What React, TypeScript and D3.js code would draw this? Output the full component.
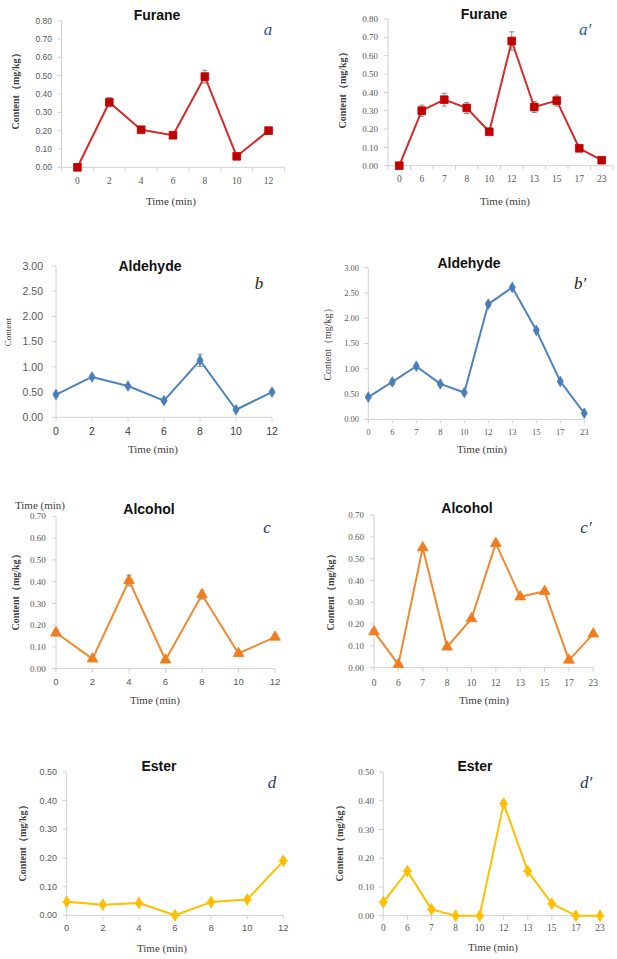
import React from "react";
import * as d3 from "d3";

// ---------- DATA ----------
const timeLeft = ["0", "2", "4", "6", "8", "10", "12"];
const timeRight = ["0", "6", "7", "8", "10", "12", "13", "15", "17", "23"];

const furaneA = [0.0, 0.355, 0.205, 0.175, 0.495, 0.06, 0.2];
const furaneAErr = [0.0, 0.025, 0.01, 0.01, 0.035, 0.01, 0.01];
const furaneA2 = [0.0, 0.3, 0.36, 0.315, 0.185, 0.68, 0.32, 0.355, 0.095, 0.03];
const furaneA2Err = [0.0, 0.03, 0.035, 0.03, 0.01, 0.05, 0.03, 0.03, 0.01, 0.01];

const aldehydeB = [0.45, 0.8, 0.62, 0.33, 1.13, 0.15, 0.5];
const aldehydeBErr = [0.02, 0.04, 0.03, 0.03, 0.12, 0.03, 0.03];
const aldehydeB2 = [0.44, 0.74, 1.05, 0.7, 0.53, 2.28, 2.61, 1.76, 0.75, 0.12];
const aldehydeB2Err = [0.02, 0.05, 0.03, 0.02, 0.03, 0.04, 0.04, 0.04, 0.03, 0.02];

const alcoholC = [0.165, 0.045, 0.405, 0.04, 0.34, 0.07, 0.145];
const alcoholCErr = [0.015, 0.01, 0.025, 0.01, 0.02, 0.01, 0.01];
const alcoholC2 = [0.165, 0.015, 0.55, 0.095, 0.225, 0.57, 0.325, 0.35, 0.035, 0.155];
const alcoholC2Err = [0.01, 0.005, 0.01, 0.005, 0.01, 0.01, 0.01, 0.01, 0.005, 0.01];

const esterD = [0.047, 0.037, 0.043, 0.0, 0.046, 0.055, 0.19];
const esterDErr = [0.005, 0.005, 0.005, 0.0, 0.005, 0.005, 0.01];
const esterD2 = [0.047, 0.155, 0.022, 0.0, 0.0, 0.39, 0.155, 0.042, 0.0, 0.0];
const esterD2Err = [0.005, 0.008, 0.005, 0.0, 0.0, 0.01, 0.008, 0.005, 0.0, 0.0];

const ticksFurane = [0, 0.1, 0.2, 0.3, 0.4, 0.5, 0.6, 0.7, 0.8];
const ticksAldehyde = [0, 0.5, 1.0, 1.5, 2.0, 2.5, 3.0];
const ticksAlcohol = [0, 0.1, 0.2, 0.3, 0.4, 0.5, 0.6, 0.7];
const ticksEster = [0, 0.1, 0.2, 0.3, 0.4, 0.5];

const SERIF = "'Liberation Serif', 'DejaVu Serif', serif";
const SANS = "'Liberation Sans', Arial, sans-serif";

type PanelProps = {
  title: string;
  letter: string;
  cats: string[];
  values: number[];
  errs: number[];
  yTicks: number[];
  xRange: [number, number];
  yRange: [number, number];
  band: boolean;
  color: string;
  markerFill: string;
  marker: "square" | "diamond" | "triangle" | "star";
  titlePos: [number, number];
  letterPos: [number, number];
  letterColor: string;
  yTickX: number;
  yTickFont: string;
  yTickSize: number;
  xTickY: number;
  xTickFont: string;
  xTickSize: number;
  xTickColor: string;
  xLabelPos: [number, number];
  yLabel: string;
  yLabelPos: [number, number];
  yLabelSize: number;
  yLabelWeight?: string;
};

function Panel(p: PanelProps) {
  const x = d3
    .scalePoint<string>()
    .domain(p.cats)
    .range(p.xRange)
    .padding(p.band ? 0.5 : 0);
  const y = d3
    .scaleLinear()
    .domain([0, p.yTicks[p.yTicks.length - 1]])
    .range(p.yRange);
  const line = d3
    .line<number>()
    .x((_, i) => x(p.cats[i]) as number)
    .y((v) => y(v));
  const step = x.step();
  const axisColor = "#d0d0d0";
  const x0 = p.xRange[0];
  const x1 = p.xRange[1];
  const xTickPos = p.band
    ? [x0, ...p.cats.map((c) => (x(c) as number) + step / 2)]
    : p.cats.map((c) => x(c) as number);

  const sym = (() => {
    switch (p.marker) {
      case "square":
        return d3.symbol(d3.symbolSquare, 60)();
      case "diamond":
        return d3.symbol(d3.symbolDiamond, 32)();
      case "triangle":
        return d3.symbol(d3.symbolTriangle, 50)();
      default:
        return d3.symbol(d3.symbolDiamond, 40)();
    }
  })();

  return (
    <g>
      {/* y axis */}
      <line x1={x0} x2={x0} y1={p.yRange[0]} y2={p.yRange[1]} stroke={axisColor} strokeWidth={1} />
      {p.yTicks.map((t) => (
        <g key={"yt" + t}>
          <line x1={x0 - 4} x2={x0} y1={y(t)} y2={y(t)} stroke={axisColor} />
          <text
            x={p.yTickX}
            y={y(t)}
            dy="0.35em"
            textAnchor="end"
            fontFamily={p.yTickFont}
            fontSize={p.yTickSize}
            fill="#595959"
          >
            {t.toFixed(2)}
          </text>
        </g>
      ))}
      {/* x axis */}
      <line x1={x0} x2={x1} y1={p.yRange[0]} y2={p.yRange[0]} stroke={axisColor} strokeWidth={1} />
      {xTickPos.map((xp, i) => (
        <line key={"xt" + i} x1={xp} x2={xp} y1={p.yRange[0]} y2={p.yRange[0] + 4} stroke={axisColor} />
      ))}
      {p.cats.map((c) => (
        <text
          key={"xl" + c}
          x={x(c)}
          y={p.xTickY}
          dy="0.35em"
          textAnchor="middle"
          fontFamily={p.xTickFont}
          fontSize={p.xTickSize}
          fill={p.xTickColor}
        >
          {c}
        </text>
      ))}
      {/* labels */}
      <text
        x={p.xLabelPos[0]}
        y={p.xLabelPos[1]}
        dy="0.35em"
        textAnchor="middle"
        fontFamily={SERIF}
        fontSize={11}
        fill="#404040"
      >
        Time (min)
      </text>
      <text
        transform={`translate(${p.yLabelPos[0]},${p.yLabelPos[1]}) rotate(-90)`}
        dy="0.35em"
        textAnchor="middle"
        fontFamily={SERIF}
        fontSize={p.yLabelSize}
        fontWeight={p.yLabelWeight || "normal"}
        fill="#404040"
      >
        {p.yLabel}
      </text>
      <text
        x={p.titlePos[0]}
        y={p.titlePos[1]}
        dy="0.35em"
        textAnchor="middle"
        fontFamily={SANS}
        fontWeight="bold"
        fontSize={14}
        fill="#111"
      >
        {p.title}
      </text>
      <text
        x={p.letterPos[0]}
        y={p.letterPos[1]}
        dy="0.35em"
        textAnchor="middle"
        fontFamily={SERIF}
        fontStyle="italic"
        fontSize={17}
        fill={p.letterColor}
      >
        {p.letter}
      </text>
      {/* error bars */}
      {p.values.map((v, i) =>
        p.errs[i] > 0 ? (
          <g key={"e" + i} stroke="#8a8a8a" strokeWidth={1}>
            <line x1={x(p.cats[i])} x2={x(p.cats[i])} y1={y(v - p.errs[i])} y2={y(v + p.errs[i])} />
            <line x1={(x(p.cats[i]) as number) - 2.5} x2={(x(p.cats[i]) as number) + 2.5} y1={y(v + p.errs[i])} y2={y(v + p.errs[i])} />
            <line x1={(x(p.cats[i]) as number) - 2.5} x2={(x(p.cats[i]) as number) + 2.5} y1={y(v - p.errs[i])} y2={y(v - p.errs[i])} />
          </g>
        ) : null
      )}
      {/* line */}
      <path d={line(p.values) || ""} fill="none" stroke={p.color} strokeWidth={2} strokeLinejoin="round" />
      {/* markers */}
      {p.values.map((v, i) => (
        <g key={"m" + i} transform={`translate(${x(p.cats[i])},${y(v)})`}>
          <path d={sym || ""} fill={p.markerFill} stroke={p.markerFill} strokeWidth={0.8} />
          {p.marker === "star" ? (
            <g stroke={p.markerFill} strokeWidth={1.6}>
              <line x1={-4.5} x2={4.5} y1={0} y2={0} />
              <line x1={0} x2={0} y1={-4.5} y2={4.5} />
            </g>
          ) : null}
        </g>
      ))}
    </g>
  );
}

const CONTENT = "Content\uFF08mg/kg\uFF09";

export default function App() {
  return (
    <svg
      width={617}
      height={959}
      style={{ position: "absolute", left: 0, top: 0, background: "#fff" }}
    >
      <rect x={0} y={0} width={617} height={959} fill="#fff" />
      {/* a */}
      <Panel
        title="Furane" letter="a" cats={timeLeft} values={furaneA} errs={furaneAErr}
        yTicks={ticksFurane} xRange={[61.5, 284.5]} yRange={[167.3, 20.7]} band={true}
        color="#d42a2a" markerFill="#c00000" marker="square"
        titlePos={[157, 15]} letterPos={[268, 29]} letterColor="#2e5597"
        yTickX={52} yTickFont={SANS} yTickSize={8.5}
        xTickY={181} xTickFont={SERIF} xTickSize={9.5} xTickColor="#595959"
        xLabelPos={[171, 201]} yLabel={CONTENT} yLabelPos={[15, 89]} yLabelSize={10} yLabelWeight="bold"
      />
      {/* a' */}
      <Panel
        title="Furane" letter={"a\u2032"} cats={timeRight} values={furaneA2} errs={furaneA2Err}
        yTicks={ticksFurane} xRange={[388, 613]} yRange={[165.7, 19]} band={true}
        color="#d42a2a" markerFill="#c00000" marker="square"
        titlePos={[484, 14]} letterPos={[585, 29]} letterColor="#2e5597"
        yTickX={378} yTickFont={SERIF} yTickSize={9}
        xTickY={179} xTickFont={SERIF} xTickSize={9.5} xTickColor="#595959"
        xLabelPos={[505, 201]} yLabel={CONTENT} yLabelPos={[342, 88]} yLabelSize={10} yLabelWeight="bold"
      />
      {/* b */}
      <Panel
        title="Aldehyde" letter="b" cats={timeLeft} values={aldehydeB} errs={aldehydeBErr}
        yTicks={ticksAldehyde} xRange={[56, 272]} yRange={[417.3, 266]} band={false}
        color="#4f81bd" markerFill="#4a7ebb" marker="diamond"
        titlePos={[150, 266]} letterPos={[259, 283]} letterColor="#2a1a10"
        yTickX={43} yTickFont={SANS} yTickSize={10.5}
        xTickY={431} xTickFont={SANS} xTickSize={10.5} xTickColor="#404040"
        xLabelPos={[153, 449]} yLabel="Content" yLabelPos={[8, 332]} yLabelSize={9}
      />
      {/* b' */}
      <Panel
        title="Aldehyde" letter={"b\u2032"} cats={timeRight} values={aldehydeB2} errs={aldehydeB2Err}
        yTicks={ticksAldehyde} xRange={[368.3, 584.3]} yRange={[419.3, 267.7]} band={false}
        color="#4f81bd" markerFill="#4a7ebb" marker="diamond"
        titlePos={[469, 263]} letterPos={[580, 283]} letterColor="#2a1a10"
        yTickX={359} yTickFont={SERIF} yTickSize={8.5}
        xTickY={432} xTickFont={SERIF} xTickSize={8.5} xTickColor="#595959"
        xLabelPos={[482, 449]} yLabel={CONTENT} yLabelPos={[327, 342]} yLabelSize={10}
      />
      {/* c */}
      <Panel
        title="Alcohol" letter="c" cats={timeLeft} values={alcoholC} errs={alcoholCErr}
        yTicks={ticksAlcohol} xRange={[56, 275]} yRange={[668.7, 516.3]} band={false}
        color="#f08a30" markerFill="#f07c1e" marker="triangle"
        titlePos={[149, 509]} letterPos={[267, 527]} letterColor="#1f3864"
        yTickX={45.7} yTickFont={SERIF} yTickSize={9}
        xTickY={682} xTickFont={SANS} xTickSize={9.5} xTickColor="#595959"
        xLabelPos={[155, 700]} yLabel={CONTENT} yLabelPos={[15, 590]} yLabelSize={10} yLabelWeight="bold"
      />
      <text x={40} y={505} dy="0.35em" textAnchor="middle" fontFamily={SERIF} fontSize={11} fill="#404040">
        Time (min)
      </text>
      {/* c' */}
      <Panel
        title="Alcohol" letter={"c\u2032"} cats={timeRight} values={alcoholC2} errs={alcoholC2Err}
        yTicks={ticksAlcohol} xRange={[374, 593.3]} yRange={[667.7, 515]} band={false}
        color="#f08a30" markerFill="#f07c1e" marker="triangle"
        titlePos={[467, 508]} letterPos={[586, 527]} letterColor="#1f3864"
        yTickX={364} yTickFont={SERIF} yTickSize={9}
        xTickY={683} xTickFont={SERIF} xTickSize={9.5} xTickColor="#595959"
        xLabelPos={[484, 700]} yLabel={CONTENT} yLabelPos={[330, 590]} yLabelSize={10} yLabelWeight="bold"
      />
      {/* d */}
      <Panel
        title="Ester" letter="d" cats={timeLeft} values={esterD} errs={esterDErr}
        yTicks={ticksEster} xRange={[66.7, 283.3]} yRange={[915.3, 772]} band={false}
        color="#ffc000" markerFill="#ffbe00" marker="star"
        titlePos={[159, 766]} letterPos={[272, 782]} letterColor="#1f3864"
        yTickX={57} yTickFont={SANS} yTickSize={9}
        xTickY={928} xTickFont={SANS} xTickSize={9.5} xTickColor="#595959"
        xLabelPos={[162, 948]} yLabel={CONTENT} yLabelPos={[22, 841]} yLabelSize={10} yLabelWeight="bold"
      />
      {/* d' */}
      <Panel
        title="Ester" letter={"d\u2032"} cats={timeRight} values={esterD2} errs={esterD2Err}
        yTicks={ticksEster} xRange={[383.3, 600]} yRange={[915.7, 772]} band={false}
        color="#ffc000" markerFill="#ffbe00" marker="star"
        titlePos={[475, 766]} letterPos={[586, 782]} letterColor="#1f3864"
        yTickX={374} yTickFont={SERIF} yTickSize={9}
        xTickY={928} xTickFont={SERIF} xTickSize={9.5} xTickColor="#595959"
        xLabelPos={[493, 947]} yLabel={CONTENT} yLabelPos={[339, 841]} yLabelSize={10} yLabelWeight="bold"
      />
    </svg>
  );
}
